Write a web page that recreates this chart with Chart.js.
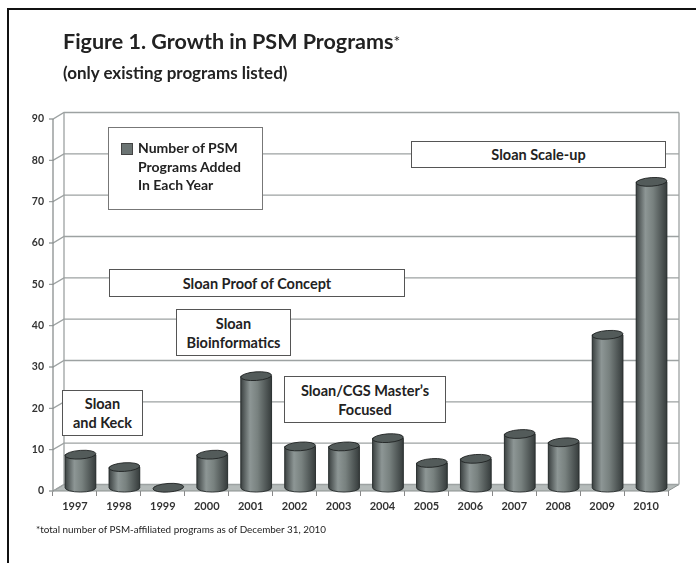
<!DOCTYPE html>
<html><head><meta charset="utf-8">
<script src="https://cdn.jsdelivr.net/npm/chart.js@4.4.0/dist/chart.umd.min.js"></script>
<style>
html,body{margin:0;padding:0;background:#fff;}
#wrap{position:relative;width:696px;height:563px;overflow:hidden;font-family:Lato,"Open Sans",sans-serif;color:#222;}
canvas{position:absolute;left:0;top:0;}
.t{position:absolute;white-space:nowrap;line-height:1;}
.box{position:absolute;background:#fff;border:1.5px solid #555;box-sizing:border-box;font-weight:bold;font-size:14.5px;display:flex;align-items:center;justify-content:center;text-align:center;line-height:19px;color:#222;}
#frame{position:absolute;left:7px;top:8px;width:700px;height:600px;border-top:2px solid #111;border-left:2px solid #111;}
#legend{position:absolute;left:108px;top:127px;width:155px;height:83px;background:#fff;border:1px solid #777;box-sizing:border-box;}
#legend .sw{position:absolute;left:12px;top:15px;width:10px;height:10px;border:1px solid #444;}
#legend .lt{position:absolute;left:29px;top:11px;font-weight:bold;font-size:14px;line-height:18.5px;}
</style></head><body>
<div id="wrap">
<canvas id="c" width="696" height="563"></canvas>
<div id="frame"></div>
<div class="t" style="left:63px;top:31px;font-size:21.5px;font-weight:bold;">Figure 1. Growth in PSM Programs<span style="font-weight:normal;font-size:16px;position:relative;top:-2px;">*</span></div>
<div class="t" style="left:63px;top:64px;font-size:17px;font-weight:bold;">(only existing programs listed)</div>
<div id="legend"><div class="sw" id="sw"></div><div class="lt" id="lt"></div></div>
<div class="box" style="left:411px;top:141px;width:255px;height:27px;">Sloan Scale-up</div>
<div class="box" style="left:109px;top:269px;width:296px;height:28px;">Sloan Proof of Concept</div>
<div class="box" style="left:176px;top:309px;width:115px;height:47px;">Sloan<br>Bioinformatics</div>
<div class="box" style="left:284px;top:376px;width:162px;height:47px;">Sloan/CGS Master’s<br>Focused</div>
<div class="box" style="left:62px;top:390px;width:81px;height:46px;">Sloan<br>and Keck</div>
<div class="t" style="left:36px;top:525px;font-size:9.9px;">*total number of PSM-affiliated programs as of December 31, 2010</div>
</div>
<script>
const years = ['1997','1998','1999','2000','2001','2002','2003','2004','2005','2006','2007','2008','2009','2010'];
const programsAdded = [8, 5, 0, 8, 27, 10, 10, 12, 6, 7, 13, 11, 37, 74];
const seriesLabel = 'Number of PSM Programs Added In Each Year';
const seriesLabelLines = ['Number of PSM', 'Programs Added', 'In Each Year'];
const barColor = '#6b7473';

document.getElementById('sw').style.background = barColor;
document.getElementById('lt').innerHTML = seriesLabelLines.join('<br>');

const DX = 11, DY = -6.5;
const wallPlugin = {
  id: 'wall3d',
  beforeDatasetsDraw(chart) {
    const {ctx, chartArea: a, scales: {y}} = chart;
    const y0 = y.getPixelForValue(0);
    const yTop = y.getPixelForValue(y.max);
    ctx.save();
    // floor
    ctx.beginPath();
    ctx.moveTo(a.left, y0); ctx.lineTo(a.right, y0);
    ctx.lineTo(a.right + DX, y0 + DY); ctx.lineTo(a.left + DX, y0 + DY);
    ctx.closePath();
    ctx.fillStyle = '#b5bbba'; ctx.fill();
    ctx.strokeStyle = '#8a908f'; ctx.lineWidth = 1; ctx.stroke();
    // back wall gridlines + tick diagonals
    ctx.strokeStyle = '#9da2a2'; ctx.lineWidth = 1.3;
    y.ticks.forEach(t => {
      const py = y.getPixelForValue(t.value);
      ctx.beginPath();
      ctx.moveTo(a.left - 4, py); ctx.lineTo(a.left, py);
      ctx.lineTo(a.left + DX, py + DY); ctx.lineTo(a.right + DX, py + DY);
      ctx.stroke();
    });
    // back wall verticals
    ctx.beginPath();
    ctx.moveTo(a.left + DX, yTop + DY); ctx.lineTo(a.left + DX, y0 + DY);
    ctx.moveTo(a.right + DX, yTop + DY); ctx.lineTo(a.right + DX, y0 + DY);
    ctx.stroke();
    // front axis
    ctx.strokeStyle = '#8a8f8f'; ctx.lineWidth = 1.3;
    ctx.beginPath(); ctx.moveTo(a.left, yTop); ctx.lineTo(a.left, y0); ctx.stroke();
    ctx.restore();
    ctx.save();
    ctx.translate(DX / 2, DY / 2);
  },
  afterDatasetsDraw(chart) {
    const {ctx} = chart;
    const meta = chart.getDatasetMeta(0);
    meta.data.forEach(el => {
      const {x, y, base, width} = el.getProps(['x', 'y', 'base', 'width'], true);
      const l = x - width / 2, r = x + width / 2, rx = width / 2, ry = 4.3, rot = -0.07;
      const g = ctx.createLinearGradient(l, 0, r, 0);
      g.addColorStop(0, '#3b4141');
      g.addColorStop(0.3, '#8d9695');
      g.addColorStop(0.55, '#78817f');
      g.addColorStop(1, '#363c3c');
      if (base - y > 0.5) {
        ctx.beginPath();
        ctx.moveTo(l, y); ctx.lineTo(l, base);
        ctx.ellipse(x, base, rx, ry, 0, Math.PI, 0, true);
        ctx.lineTo(r, y);
        ctx.closePath();
        ctx.fillStyle = g; ctx.fill();
        ctx.strokeStyle = '#262b2b'; ctx.lineWidth = 0.9; ctx.stroke();
      }
      ctx.beginPath();
      ctx.ellipse(x, y, rx, ry, rot, 0, Math.PI * 2);
      ctx.fillStyle = '#535b5a'; ctx.fill();
      ctx.strokeStyle = '#1f2323'; ctx.lineWidth = 0.9; ctx.stroke();
    });
    ctx.restore();
  }
};

new Chart(document.getElementById('c'), {
  type: 'bar',
  data: {
    labels: years,
    datasets: [{
      label: seriesLabel,
      data: programsAdded,
      backgroundColor: barColor,
      borderWidth: 0,
      barPercentage: 0.7,
      categoryPercentage: 1
    }]
  },
  options: {
    responsive: false,
    animation: false,
    devicePixelRatio: 1,
    layout: {padding: {left: 0, right: 28, top: 119, bottom: 0}},
    plugins: {legend: {display: false}, tooltip: {enabled: false}, title: {display: false}},
    scales: {
      x: {
        grid: {display: true, drawOnChartArea: false, drawTicks: true, tickLength: 5, color: '#888', offset: true},
        border: {display: false},
        ticks: {color: '#333', font: {family: 'Lato', size: 11, weight: 'bold'}, padding: 4, maxRotation: 0, autoSkip: false},
        afterFit(s) { s.height = 72; }
      },
      y: {
        min: 0, max: 90,
        ticks: {stepSize: 10, color: '#333', font: {family: 'Lato', size: 10.5, weight: 'bold'}, padding: 9},
        grid: {display: false, drawTicks: false},
        border: {display: false},
        afterFit(s) { s.width = 53; }
      }
    }
  },
  plugins: [wallPlugin]
});
</script>
</body></html>
